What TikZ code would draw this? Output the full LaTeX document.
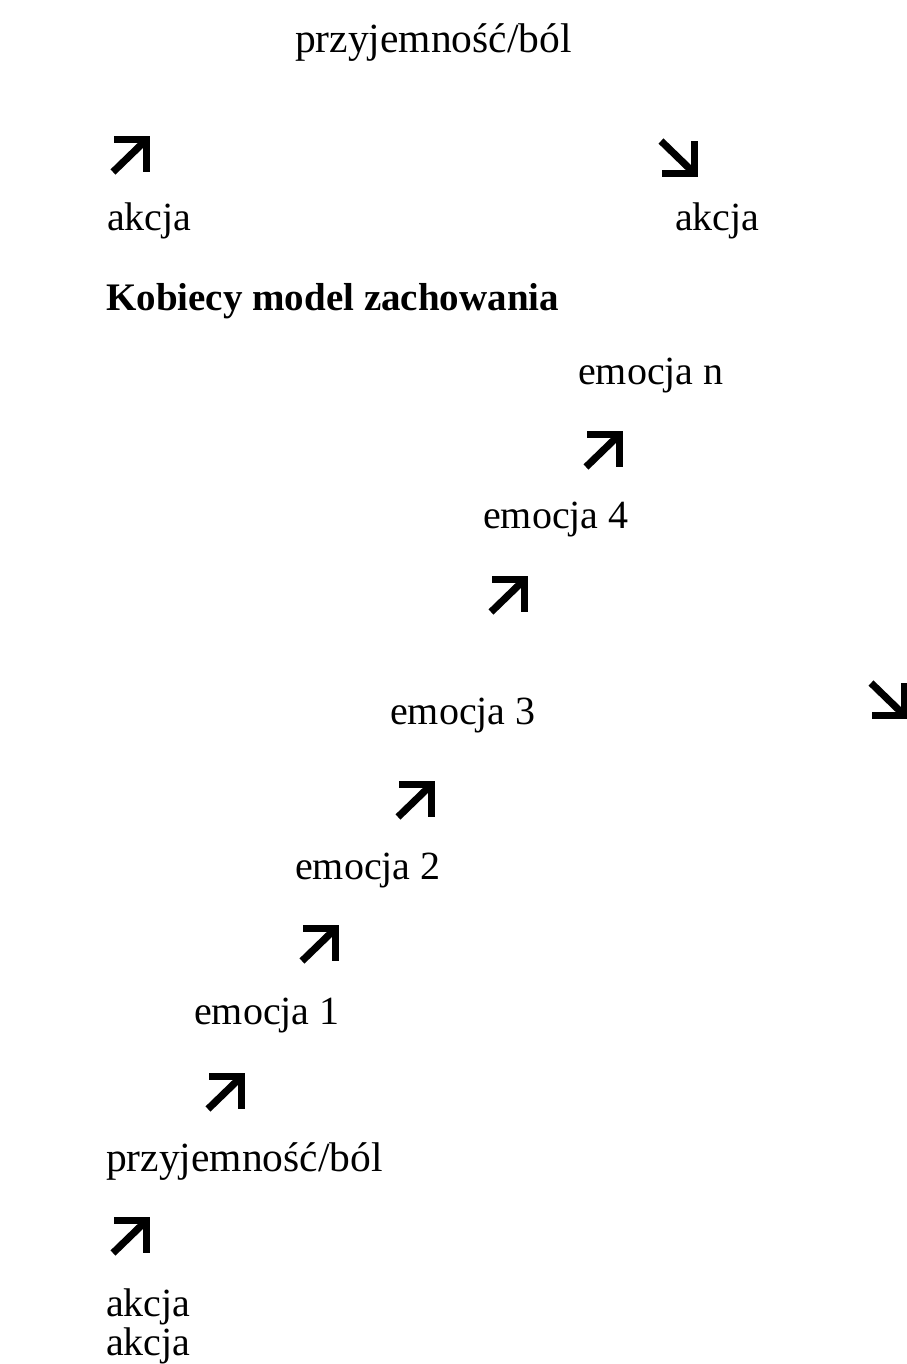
\documentclass[tikz,border=0pt]{standalone}
\usepackage{fontspec}
\setmainfont{Liberation Serif}
\begin{document}
\begin{tikzpicture}[x=1pt,y=-1pt,
  txt/.style={anchor=base west, inner sep=0pt, font=\fontsize{40}{48}\selectfont},
  wide/.style={txt, font=\fontsize{41.5}{48}\selectfont},
  ttl/.style={txt, font=\fontsize{39}{48}\selectfont\bfseries},
  arrline/.style={line width=7.2pt, line join=miter, line cap=butt},
  nearr/.pic={\draw[arrline] (-16,-16.5) -- (16.5,-16.5) -- (16.5,16);
              \draw[arrline] (-17,16) -- (15,-15);},
  searr/.pic={\draw[arrline] (-16,16.5) -- (16.5,16.5) -- (16.5,-16);
              \draw[arrline] (-17,-16) -- (15,15);}]
\useasboundingbox (0,0) rectangle (906,1364);
\fill[white] (0,0) rectangle (906,1364);

% top part
\node[wide] (pb1) at (295,53) {przyjemność/ból};
\pic at (130,156) {nearr};
\pic at (678,157) {searr};
\node[txt] (ak1) at (107,231) {akcja};
\node[txt] (ak2) at (675,231) {akcja};

% title
\node[ttl] (title) at (106,310) {Kobiecy model zachowania};

% staircase
\node[txt] (emn) at (578,384) {emocja n};
\pic at (603,451) {nearr};
\node[txt] (em4) at (483,528) {emocja 4};
\pic at (508,596) {nearr};
\node[txt] (em3) at (390,724) {emocja 3};
\pic at (888,699) {searr};
\pic at (415,801) {nearr};
\node[txt] (em2) at (295,879) {emocja 2};
\pic at (319,945) {nearr};
\node[txt] (em1) at (194,1024) {emocja 1};
\pic at (225,1093) {nearr};
\node[wide] (pb2) at (106,1171) {przyjemność/ból};
\pic at (130,1237) {nearr};
\node[txt] (ak3) at (106,1316) {akcja};
\node[txt] (ak4) at (106,1355) {akcja};
\end{tikzpicture}
\end{document}
